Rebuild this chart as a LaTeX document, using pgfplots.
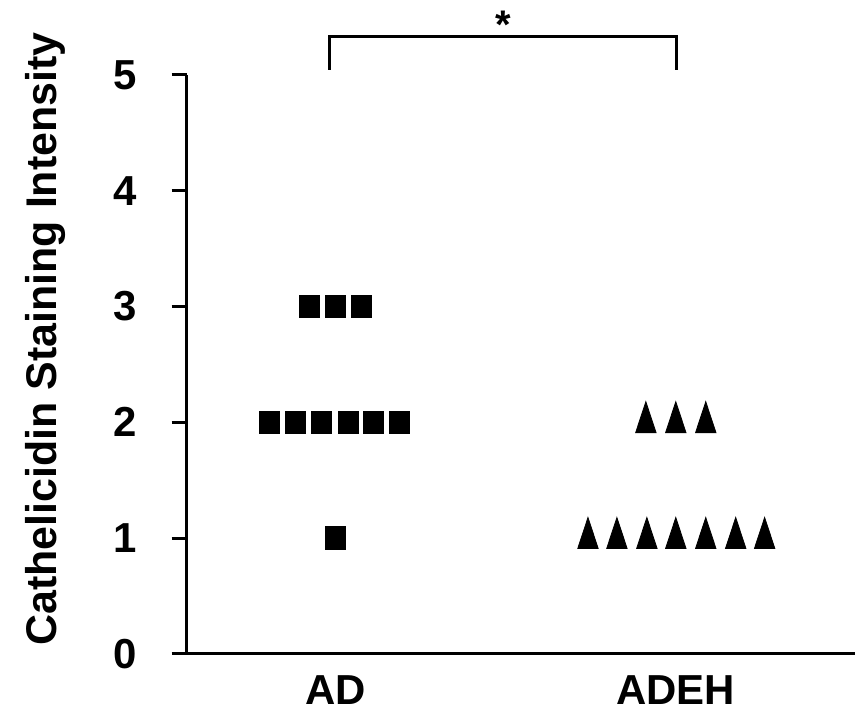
\documentclass[border=0pt]{standalone}
\usepackage{fontspec}
\setmainfont{Liberation Sans}
\usepackage{pgfplots}
\pgfplotsset{compat=1.18}

\begin{document}
\begin{tikzpicture}
\begin{axis}[
    scale only axis,
    width=334.5pt, height=290pt,
    xmin=0.563, xmax=2.525,
    ymin=0, ymax=5,
    axis x line=bottom, axis y line=left,
    axis line style={-, line width=1.5pt, black},
    xtick={1,2}, xticklabels={AD,ADEH},
    ytick={0,1,2,3,4,5},
    major x tick style={draw=none},
    major y tick style={line width=1.5pt, black},
    tick align=outside, major tick length=7.5pt,
    /pgf/number format/assume math mode=true,
    tick label style={font=\bfseries\fontsize{21}{23}\selectfont},
    yticklabel style={xshift=-14pt},
    clip=false,
]
% AD
\addplot[only marks, mark=square*, mark size=4.9pt, mark options={yscale=1.15}, black]
  coordinates {(0.9238,3) (1.0,3) (1.0762,3)
               (0.8065,2) (0.8827,2) (0.9589,2) (1.0381,2) (1.1114,2) (1.1877,2)
               (1.0,1)};
% ADEH
\addplot[only marks, mark=triangle*, mark size=5.9pt, mark options={yscale=1.75}, black]
  coordinates {(1.912,2) (2.0,2) (2.088,2)
               (1.742,1) (1.827,1) (1.915,1) (2.0,1) (2.088,1) (2.176,1) (2.261,1)};
% significance bracket
\draw[line width=1.5pt] (axis cs:0.982,5.043) -- (axis cs:0.982,5.328) -- (axis cs:2.003,5.328) -- (axis cs:2.003,5.043);
\node[font=\bfseries\fontsize{20}{22}\selectfont] at (axis cs:1.493,5.43) {*};
\node[rotate=90, font=\bfseries\fontsize{21.5}{24}\selectfont] at (axis cs:0.147,2.72) {Cathelicidin Staining Intensity};
\path (axis cs:0.0147,-0.5) rectangle (axis cs:2.525,5.647);
\end{axis}
\end{tikzpicture}
\end{document}
